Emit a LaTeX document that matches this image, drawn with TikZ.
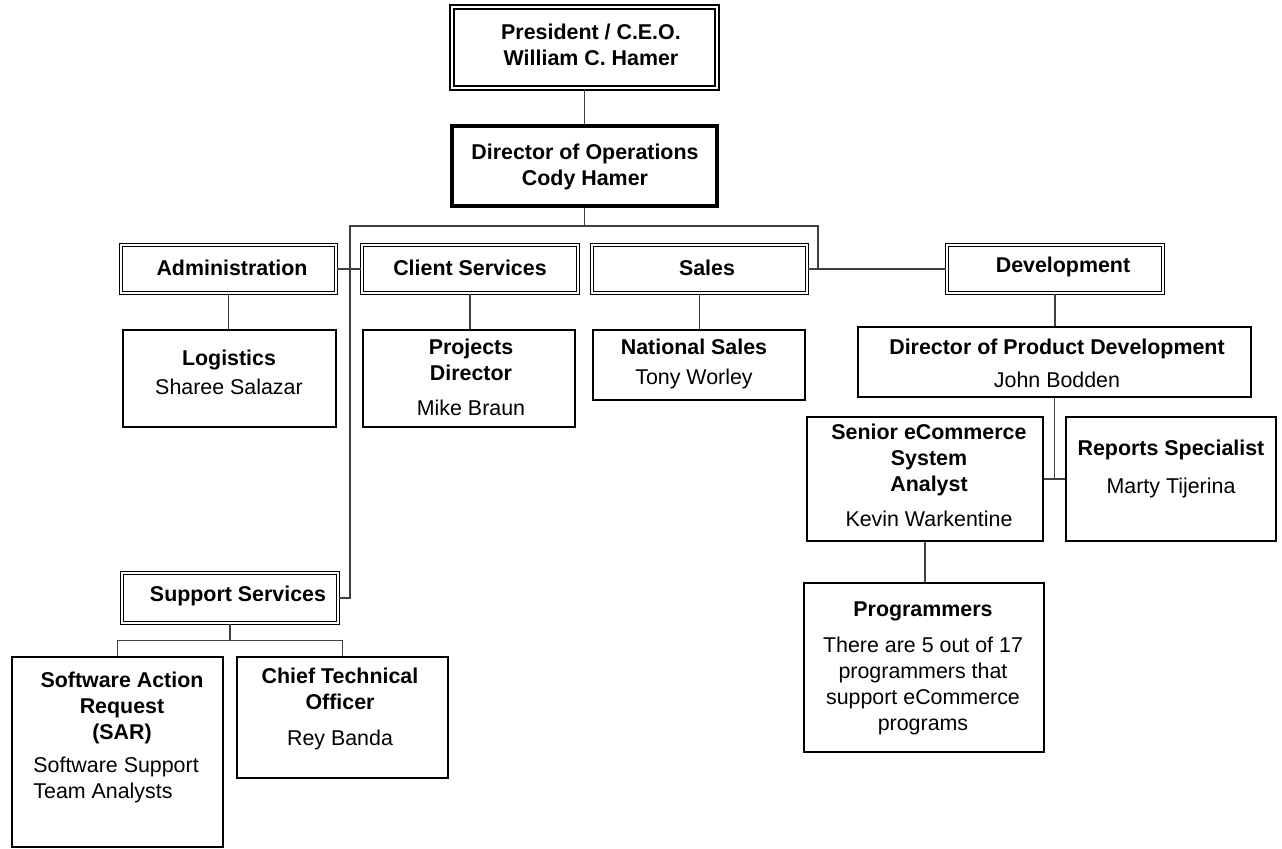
\documentclass[tikz,border=0pt]{standalone}
\usepackage{fontspec}
\setmainfont{Liberation Sans}
\usetikzlibrary{fit}

\tikzset{
  box/.style={draw=black,line width=0.9pt,inner sep=0pt},
  hbox/.style={draw=black,line width=0.6pt,double=white,double distance=0.9pt,inner sep=0pt},
  topbox/.style={draw=black,line width=1pt,double=white,double distance=1.3pt,inner sep=0pt},
  opsbox/.style={draw=black,line width=1.6pt,inner sep=0pt},
  txt/.style={align=center,anchor=north,inner sep=0pt,font=\fontsize{10.7}{13}\selectfont},
  conn/.style={draw=black!75,line width=0.6pt}
}

\begin{document}
\begin{tikzpicture}[x=0.5pt,y=-0.5pt]
\useasboundingbox (0,0) rectangle (1282,848);

\node[topbox,fit={(452,7) (717,88)}] (pres) {};
\node[opsbox,fit={(452,126) (717,206)}] (dops) {};
\node[hbox,fit={(121,245) (336,293)}] (admin) {};
\node[hbox,fit={(362,245) (578,293)}] (client) {};
\node[hbox,fit={(592,245) (807,293)}] (sales) {};
\node[hbox,fit={(947,245) (1163,293)}] (dev) {};
\node[box,fit={(123,330) (336,427)}] (logi) {};
\node[box,fit={(363,330) (575,427)}] (proj) {};
\node[box,fit={(593,330) (805,400)}] (nsal) {};
\node[box,fit={(858,327) (1251,397)}] (dpd) {};
\node[box,fit={(807,417) (1043,541)}] (sen) {};
\node[box,fit={(1066,417) (1276,541)}] (rep) {};
\node[box,fit={(804,583) (1044,752)}] (prog) {};
\node[hbox,fit={(122,573) (338,623)}] (supp) {};
\node[box,fit={(12,657) (223,847)}] (sar) {};
\node[box,fit={(237,657) (448,778)}] (cto) {};

\node[txt] (pres-t) at (591,24) {\textbf{President / C.E.O.}\\\textbf{William C. Hamer}};
\node[txt] (dops-t) at (585,144) {\textbf{Director of Operations}\\\textbf{Cody Hamer}};
\node[txt] (admin-t) at (232,260) {\textbf{Administration}};
\node[txt] (client-t) at (470,260) {\textbf{Client Services}};
\node[txt] (sales-t) at (707,260) {\textbf{Sales}};
\node[txt] (dev-t) at (1063,257) {\textbf{Development}};
\node[txt] (logi-t) at (229,350) {\textbf{Logistics}\\[1.5pt]Sharee Salazar};
\node[txt] (proj-t) at (471,339) {\textbf{Projects}\\\textbf{Director}\\[4.5pt]Mike Braun};
\node[txt] (nsal-t) at (694,339) {\textbf{National Sales}\\[2pt]Tony Worley};
\node[txt] (dpd-t) at (1057,339) {\textbf{Director of Product Development}\\[3.5pt]John Bodden};
\node[txt] (sen-t) at (929,424) {\textbf{Senior eCommerce}\\\textbf{System}\\\textbf{Analyst}\\[4.5pt]Kevin Warkentine};
\node[txt] (rep-t) at (1171,440) {\textbf{Reports Specialist}\\[6pt]Marty Tijerina};
\node[txt] (prog-t) at (923,601) {\textbf{Programmers}\\[5pt]There are 5 out of 17\\programmers that\\support eCommerce\\programs};
\node[txt] (supp-t) at (238,586) {\textbf{Support Services}};
\node[txt] (sar-t) at (122,672) {\textbf{Software Action}\\\textbf{Request}\\\textbf{(SAR)}};
\node[txt,align=left,anchor=north west] (sar-n) at (33,757) {Software Support\\Team Analysts};
\node[txt] (cto-t) at (340,668) {\textbf{Chief Technical}\\\textbf{Officer}\\[5pt]Rey Banda};

\coordinate (barL) at (350,226);
\coordinate (barR) at (818,226);
\draw[conn] (pres) -- (dops);
\draw[conn] (dops.south) -- (dops.south |- barL);
\draw[conn] (supp.east) -| (barL) -- (barR) -- (barR |- dev.west);
\draw[conn] (admin.east) -- (client.west);
\draw[conn] (sales.east) -- (dev.west);
\draw[conn] (admin.south) -- (admin.south |- logi.north);
\draw[conn] (client.south) -- (client.south |- proj.north);
\draw[conn] (sales.south) -- (sales.south |- nsal.north);
\draw[conn] (dev.south) -- (dev.south |- dpd.north);
\draw[conn] (dpd.south) -- (dpd.south |- rep.west);
\draw[conn] (sen.east) -- (rep.west);
\draw[conn] (sen.south) -- (sen.south |- prog.north);
\draw[conn] (supp.south) -- ++(0,17) coordinate (sst);
\draw[conn] (sar.north) |- (sst) -| (cto.north);
\end{tikzpicture}
\end{document}
